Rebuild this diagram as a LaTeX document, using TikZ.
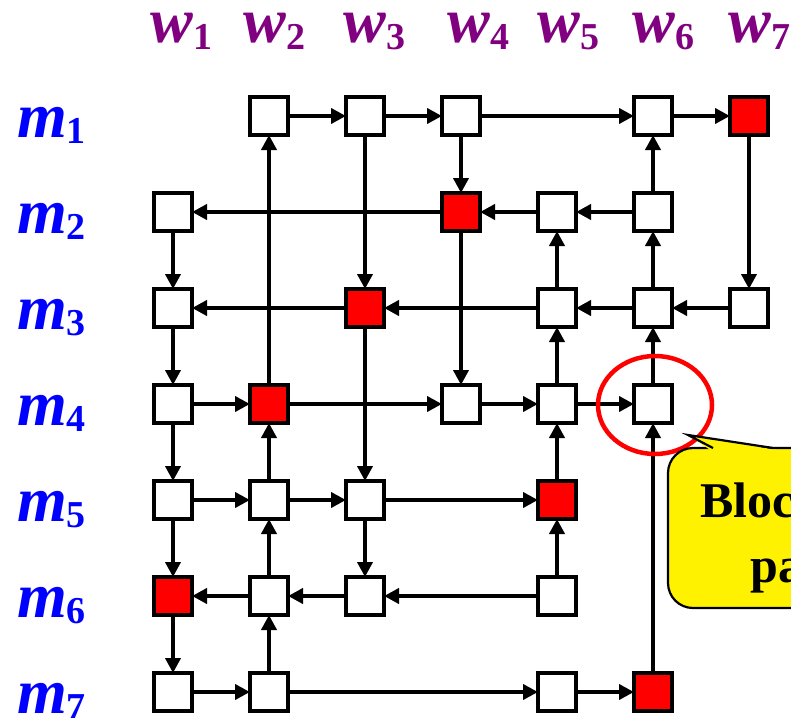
\documentclass[tikz,border=0pt]{standalone}
\usepackage{fontspec}
\setmainfont{Liberation Serif}
\usetikzlibrary{arrows.meta}
\definecolor{wpurple}{HTML}{800080}
\definecolor{mblue}{HTML}{0000FF}
\newcommand\wlab[2]{\textbf{\textit{#1}}\raisebox{-6pt}{\fontsize{38}{38}\selectfont\bfseries #2}}
\tikzset{
  box/.style={draw=black, line width=4.2pt, fill=white, minimum size=38pt, inner sep=0pt, outer sep=0pt},
  redbox/.style={box, fill=red},
  arr/.style={line width=3.8pt, -{Triangle[length=15pt,width=15pt]}},
  wl/.style={anchor=base west, inner sep=0pt, text height=31pt, text depth=8pt, text=wpurple, font=\fontsize{64}{64}\selectfont},
  ml/.style={anchor=base west, inner sep=0pt, text height=31pt, text depth=8pt, text=mblue, font=\fontsize{64}{64}\selectfont},
  calltext/.style={anchor=base, inner sep=0pt, font=\fontsize{50}{50}\selectfont\bfseries}
}
\begin{document}
\begin{tikzpicture}[x=1pt,y=-1pt]
\useasboundingbox (0,0) rectangle (791,717);
% column labels
\node[wl] (w1) at (150,43) {\wlab{w}{1}};
\node[wl] (w2) at (243,43) {\wlab{w}{2}};
\node[wl] (w3) at (343,43) {\wlab{w}{3}};
\node[wl] (w4) at (447,43) {\wlab{w}{4}};
\node[wl] (w5) at (537,43) {\wlab{w}{5}};
\node[wl] (w6) at (632,43) {\wlab{w}{6}};
\node[wl] (w7) at (728,43) {\wlab{w}{7}};
% row labels
\node[ml] (m1) at (17,137) {\wlab{m}{1}};
\node[ml] (m2) at (17,233) {\wlab{m}{2}};
\node[ml] (m3) at (17,329) {\wlab{m}{3}};
\node[ml] (m4) at (17,425) {\wlab{m}{4}};
\node[ml] (m5) at (17,521) {\wlab{m}{5}};
\node[ml] (m6) at (17,617) {\wlab{m}{6}};
\node[ml] (m7) at (17,713) {\wlab{m}{7}};
% row 1
\node[box] (n12) at (269,116) {};
\node[box] (n13) at (365,116) {};
\node[box] (n14) at (461,116) {};
\node[box] (n16) at (653,116) {};
\node[redbox] (n17) at (749,116) {};
% row 2
\node[box] (n21) at (173,212) {};
\node[redbox] (n24) at (461,212) {};
\node[box] (n25) at (557,212) {};
\node[box] (n26) at (653,212) {};
% row 3
\node[box] (n31) at (173,308) {};
\node[redbox] (n33) at (365,308) {};
\node[box] (n35) at (557,308) {};
\node[box] (n36) at (653,308) {};
\node[box] (n37) at (749,308) {};
% row 4
\node[box] (n41) at (173,404) {};
\node[redbox] (n42) at (269,404) {};
\node[box] (n44) at (461,404) {};
\node[box] (n45) at (557,404) {};
\node[box] (n46) at (653,404) {};
% row 5
\node[box] (n51) at (173,500) {};
\node[box] (n52) at (269,500) {};
\node[box] (n53) at (365,500) {};
\node[redbox] (n55) at (557,500) {};
% row 6
\node[redbox] (n61) at (173,596) {};
\node[box] (n62) at (269,596) {};
\node[box] (n63) at (365,596) {};
\node[box] (n65) at (557,596) {};
% row 7
\node[box] (n71) at (173,692) {};
\node[box] (n72) at (269,692) {};
\node[box] (n75) at (557,692) {};
\node[redbox] (n76) at (653,692) {};
% arrows
\foreach \a/\b in {n12/n13, n13/n14, n14/n16, n16/n17,
  n42/n12, n52/n42, n62/n52, n72/n62,
  n13/n33, n33/n53, n53/n63,
  n14/n24, n24/n44,
  n35/n25, n45/n35, n55/n45, n65/n55,
  n26/n16, n36/n26, n46/n36, n76/n46,
  n17/n37,
  n21/n31, n31/n41, n41/n51, n51/n61, n61/n71,
  n24/n21, n25/n24, n26/n25,
  n33/n31, n35/n33, n36/n35, n37/n36,
  n41/n42, n42/n44, n44/n45, n45/n46,
  n51/n52, n52/n53, n53/n55,
  n62/n61, n63/n62, n65/n63,
  n71/n72, n72/n75, n75/n76}
  \draw[arr] (\a) -- (\b);
% highlight ellipse
\draw[red, line width=4.5pt] (n46) ++(2,1) ellipse [x radius=57, y radius=49];
% callout
\draw[fill=yellow, line width=2.2pt, rounded corners=25pt] (668,448) rectangle (920,608);
\fill[yellow] (710,449.8) -- (688,435) -- (776,449.8) -- cycle;
\draw[line width=2.2pt, line join=miter] (713,448) -- (688,435) -- (773,448);
\node[calltext] (c1) at (795,517) {Blocking};
\node[calltext] (c2) at (795,582) {pair};
\end{tikzpicture}
\end{document}
